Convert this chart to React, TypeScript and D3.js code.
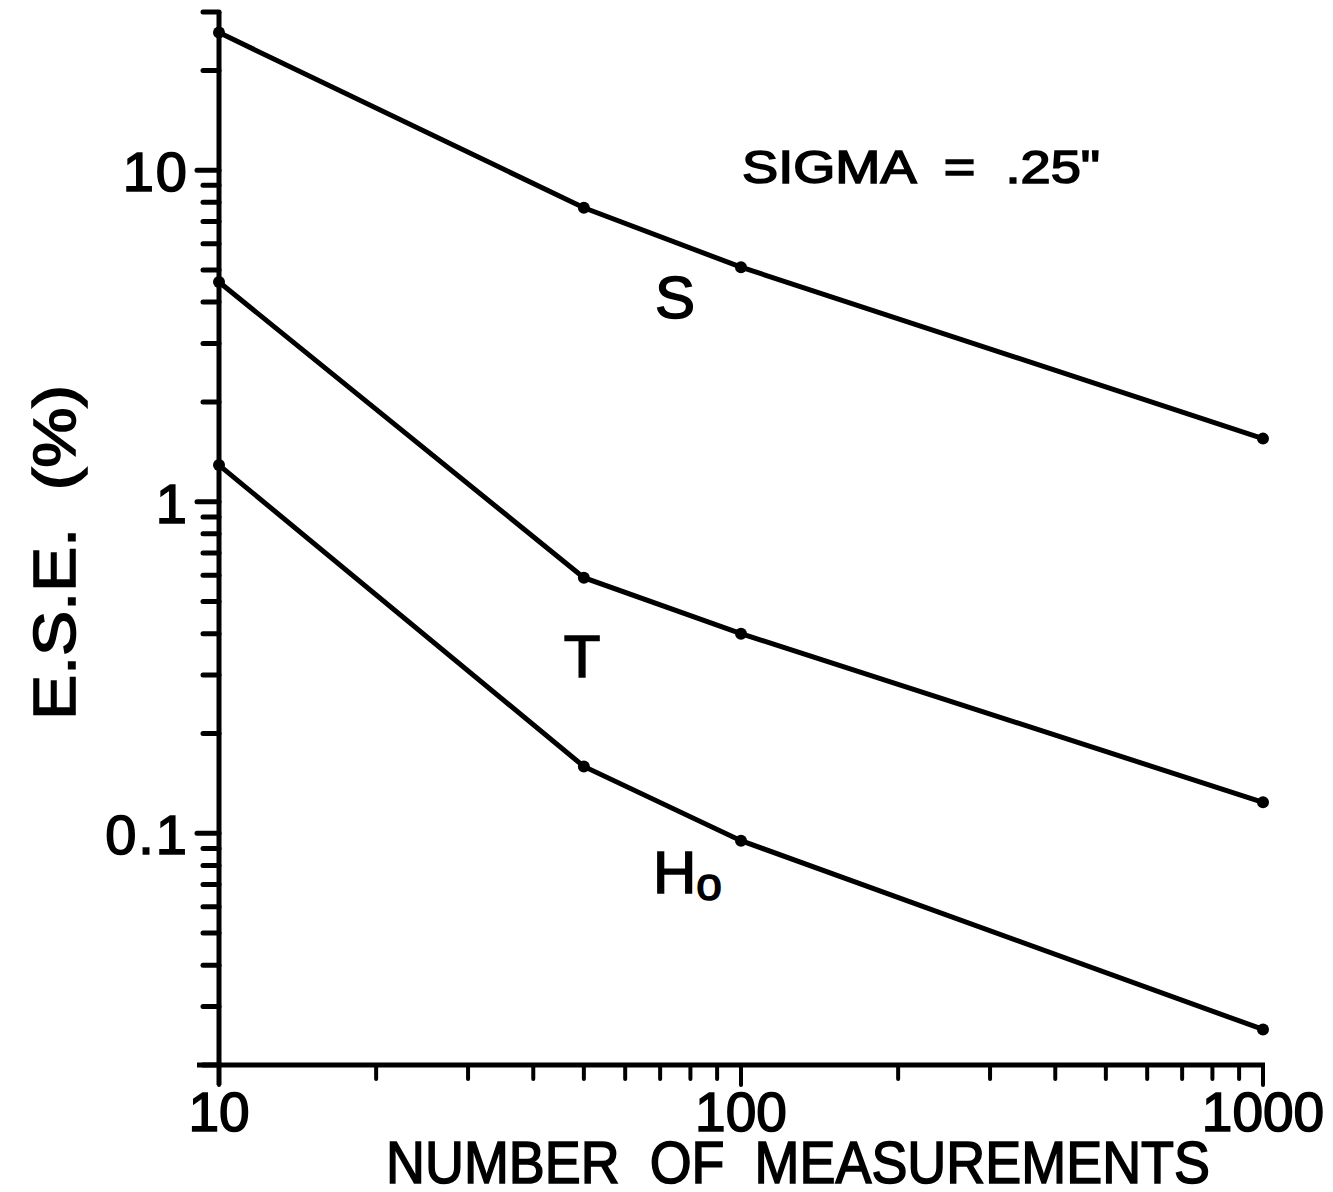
import React, { useEffect, useRef } from 'react';
import * as d3 from 'd3';

// measurement counts on the x axis
const measurements = [10, 50, 100, 1000];

// E.S.E. (%) per series
const sValues = [26, 7.7, 5.1, 1.55];
const tValues = [4.6, 0.59, 0.4, 0.124];
const hValues = [1.29, 0.159, 0.095, 0.0256];

const xMajor = [10, 100, 1000];
const xMinor = [20, 30, 40, 50, 60, 70, 80, 90, 200, 300, 400, 500, 600, 700, 800, 900];
const yMajor = [0.1, 1, 10];
const yMajorLabels = ['0.1', '1', '10'];
const yMinor = [0.02, 0.03, 0.04, 0.05, 0.06, 0.07, 0.08, 0.09, 0.2, 0.3, 0.4, 0.5, 0.6, 0.7, 0.8, 0.9,
  2, 3, 4, 5, 6, 7, 8, 9, 20, 30];

const FONT = '"Liberation Sans", Arial, sans-serif';

function App() {
  const svgRef = useRef<SVGSVGElement>(null);

  useEffect(() => {
    const svg = d3.select(svgRef.current);
    svg.selectAll('*').remove();

    const x = d3.scaleLog().domain([10, 1000]).range([219, 1263]);
    const y = d3.scaleLog().domain([0.02, 30]).range([1065, 12]);

    const ink = '#000';

    // plotter-ish text: regular glyphs thickened by a thin stroke
    const txt = (sel: any, size: number) => sel
      .attr('font-family', FONT).attr('font-size', size)
      .style('white-space', 'pre')
      .attr('fill', ink).attr('stroke', ink).attr('stroke-width', 1.6);

    // axis lines
    svg.append('line')
      .attr('x1', 219).attr('x2', 219)
      .attr('y1', y(30)).attr('y2', 1085)
      .attr('stroke', ink).attr('stroke-width', 5);
    svg.append('line')
      .attr('x1', 197).attr('x2', x(1000) + 2)
      .attr('y1', y(0.02)).attr('y2', y(0.02))
      .attr('stroke', ink).attr('stroke-width', 5);

    // y ticks
    svg.selectAll('.ymin').data(yMinor).enter().append('line')
      .attr('x1', 203).attr('x2', 219)
      .attr('y1', d => y(d)).attr('y2', d => y(d))
      .attr('stroke', ink).attr('stroke-width', 5).attr('stroke-linecap', 'round');
    svg.selectAll('.ymaj').data(yMajor).enter().append('line')
      .attr('x1', 197).attr('x2', 219)
      .attr('y1', d => y(d)).attr('y2', d => y(d))
      .attr('stroke', ink).attr('stroke-width', 5).attr('stroke-linecap', 'round');
    txt(svg.selectAll('.ylab').data(yMajor).enter().append('text'), 56)
      .attr('x', 189).attr('y', d => y(d) + 21)
      .attr('text-anchor', 'end')
      .attr('letter-spacing', 2)
      .text((d, i) => yMajorLabels[i]);

    // x ticks
    svg.selectAll('.xmin').data(xMinor).enter().append('line')
      .attr('x1', d => x(d)).attr('x2', d => x(d))
      .attr('y1', y(0.02)).attr('y2', y(0.02) + 14)
      .attr('stroke', ink).attr('stroke-width', 4).attr('stroke-linecap', 'round');
    svg.selectAll('.xmaj').data(xMajor).enter().append('line')
      .attr('x1', d => x(d)).attr('x2', d => x(d))
      .attr('y1', y(0.02)).attr('y2', y(0.02) + 20)
      .attr('stroke', ink).attr('stroke-width', 4).attr('stroke-linecap', 'round');
    txt(svg.selectAll('.xlab').data(xMajor).enter().append('text'), 55)
      .attr('x', d => x(d)).attr('y', 1131)
      .attr('text-anchor', 'middle')
      .text(d => String(d));

    // axis titles
    txt(svg.append('text'), 60)
      .attr('x', 386).attr('y', 1183)
      .attr('textLength', 824).attr('lengthAdjust', 'spacingAndGlyphs')
      .text('NUMBER  OF  MEASUREMENTS');
    txt(svg.append('text'), 60)
      .attr('transform', 'translate(75,720) rotate(-90)')
      .attr('textLength', 335).attr('lengthAdjust', 'spacingAndGlyphs')
      .text('E.S.E.  (%)');

    // series
    const line = d3.line<number>()
      .x((d, i) => x(measurements[i]))
      .y(d => y(d));

    [sValues, tValues, hValues].forEach(vals => {
      svg.append('path')
        .datum(vals)
        .attr('fill', 'none')
        .attr('stroke', ink)
        .attr('stroke-width', 5)
        .attr('d', line);
      svg.selectAll(null).data(vals).enter().append('circle')
        .attr('cx', (d, i) => x(measurements[i]))
        .attr('cy', d => y(d))
        .attr('r', 6)
        .attr('fill', ink);
    });

    // curve labels
    txt(svg.append('text'), 60).attr('x', 675).attr('y', 318)
      .attr('text-anchor', 'middle').text('S');
    txt(svg.append('text'), 60).attr('x', 582).attr('y', 677)
      .attr('text-anchor', 'middle').text('T');
    const h = txt(svg.append('text'), 60).attr('x', 653).attr('y', 893);
    h.append('tspan').text('H');
    h.append('tspan').attr('font-size', 46).attr('dy', 7).text('o');

    txt(svg.append('text'), 46).attr('x', 742).attr('y', 183)
      .attr('textLength', 358).attr('lengthAdjust', 'spacingAndGlyphs')
      .text('SIGMA  =  .25"');
  }, []);

  return (
    <svg ref={svgRef} width={1333} height={1192}
      style={{ position: 'absolute', left: 0, top: 0, background: '#fff' }}>
    </svg>
  );
}

export default App;
